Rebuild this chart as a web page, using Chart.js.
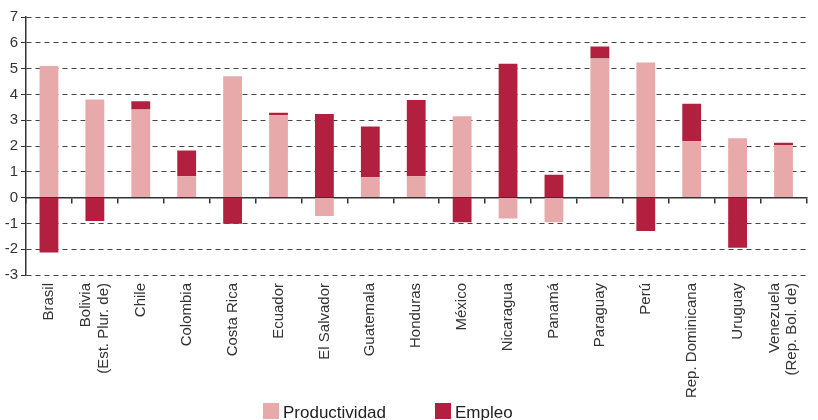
<!DOCTYPE html>
<html>
<head>
<meta charset="utf-8">
<script src="https://cdn.jsdelivr.net/npm/chart.js@4/dist/chart.umd.min.js"></script>
<style>
  body { margin: 0; overflow: hidden; background: #fff; width: 818px; height: 420px; }
  #wrap { position: absolute; left: 0; top: 0; width: 826px; height: 420px; }
  #legend { position: absolute; left: 263px; top: 403px; font-family: "Liberation Sans", Arial, sans-serif; font-size: 17px; color: #222; white-space: nowrap; }
  #legend span.item { display: inline-block; margin-right: 49px; }
  #legend span.box { display: inline-block; width: 16px; height: 16px; vertical-align: top; margin-right: 4px; }
  #legend span.txt { display: inline-block; line-height: 16px; vertical-align: top; margin-top: 2px; }
</style>
</head>
<body>
<div id="wrap"><canvas id="myChart"></canvas></div>
<div id="legend"></div>
<script>
// Countries on the x axis
let categories = [
  'Brasil', ['Bolivia', '(Est. Plur. de)'], 'Chile', 'Colombia', 'Costa Rica',
  'Ecuador', 'El Salvador', 'Guatemala', 'Honduras', 'México', 'Nicaragua',
  'Panamá', 'Paraguay', 'Perú', 'Rep. Dominicana', 'Uruguay',
  ['Venezuela', '(Rep. Bol. de)']
];

// Contribution values
let productividad = [5.1, 3.8, 3.41, 0.83, 4.7, 3.19, -0.71, 0.79, 0.83, 3.15, -0.81, -0.96, 5.39, 5.24, 2.18, 2.3, 2.04];
let empleo = [-2.13, -0.91, 0.32, 1.0, -1.01, 0.1, 3.24, 1.97, 2.95, -0.96, 5.19, 0.89, 0.47, -1.29, 1.46, -1.94, 0.09];

// Y axis range
let yMin = -3;
let yMax = 7;
let yStep = 1;

let colorProd = '#E8A9AB';
let colorEmp = '#B3203F';
let fontFamily = '"Liberation Sans", Arial, sans-serif';

// Center the two-line country names on their bar (Chart.js starts the first line at the tick)
let centerMultiLine = {
  id: 'centerMultiLine',
  beforeDraw: function(chart) {
    let scale = chart.scales.x;
    let items = scale.getLabelItems();
    items.forEach(function(item) {
      if (Array.isArray(item.label) && !item._shifted) {
        let lh = item.font.lineHeight;
        item.options.translation[0] -= (item.label.length - 1) * lh / 2;
        item._shifted = true;
      }
    });
  }
};

let ctx = document.getElementById('myChart');
let myChart = new Chart(ctx, {
  type: 'bar',
  data: {
    labels: categories,
    datasets: [
      { label: 'Productividad', data: productividad, backgroundColor: colorProd, barPercentage: 0.41, categoryPercentage: 1 },
      { label: 'Empleo', data: empleo, backgroundColor: colorEmp, barPercentage: 0.41, categoryPercentage: 1 }
    ]
  },
  plugins: [centerMultiLine],
  options: {
    responsive: true,
    maintainAspectRatio: false,
    animation: false,
    layout: { padding: { top: 17, left: 0, right: 0, bottom: 0 } },
    plugins: {
      legend: { display: false },
      tooltip: { enabled: false }
    },
    scales: {
      x: {
        stacked: true,
        offset: true,
        grid: { display: false, drawTicks: false },
        border: { display: false },
        ticks: {
          autoSkip: false,
          maxRotation: 90,
          minRotation: 90,
          padding: 8,
          color: '#333',
          font: { family: fontFamily, size: 15, lineHeight: 1.15 }
        },
        afterFit: function(scale) { scale.height = 145; }
      },
      // axis line at zero with the small tick marks between countries
      xz: {
        type: 'category',
        labels: categories,
        position: { y: 0 },
        offset: true,
        z: 1,
        grid: { offset: true, drawOnChartArea: false, drawTicks: true, tickLength: 5, color: '#333', lineWidth: 1.5 },
        border: { display: true, color: '#333', width: 1.5 },
        ticks: { display: false }
      },
      y: {
        stacked: true,
        min: yMin,
        max: yMax,
        ticks: {
          stepSize: yStep,
          padding: 3,
          color: '#333',
          font: { family: fontFamily, size: 15 }
        },
        grid: { color: '#444', lineWidth: 1, tickLength: 5, tickColor: '#333' },
        border: { display: true, color: '#333', width: 1.5, dash: [5, 4] },
        afterFit: function(scale) { scale.width = 26; }
      }
    }
  }
});

// Legend below the chart, built from the datasets
function buildLegend(chart) {
  let legend = document.getElementById('legend');
  chart.data.datasets.forEach(function(ds) {
    let item = document.createElement('span');
    item.className = 'item';
    item.innerHTML = '<span class="box" style="background:' + ds.backgroundColor + '"></span><span class="txt">' + ds.label + '</span>';
    legend.appendChild(item);
  });
}
buildLegend(myChart);
</script>
</body>
</html>
